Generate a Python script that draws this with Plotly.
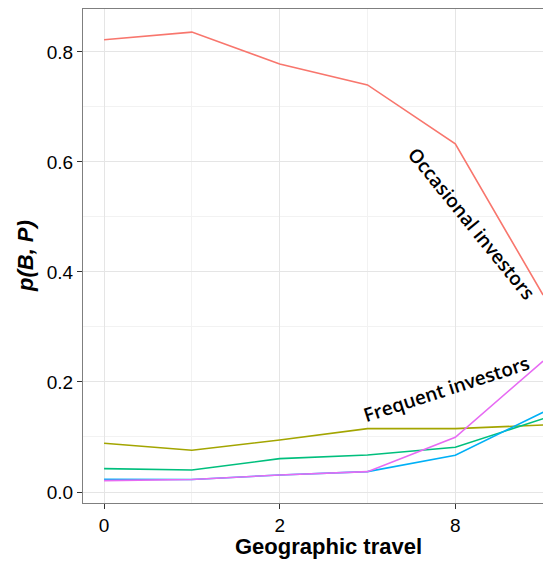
import plotly.graph_objects as go

x_pos = [0, 1, 2, 3, 4, 5]
tick_vals = [0, 2, 4]
tick_text = ["0", "2", "8"]

occasional = [0.822, 0.836, 0.778, 0.740, 0.633, 0.358]
series_olive = [0.0885, 0.0758, 0.0945, 0.1152, 0.1152, 0.1218]
series_green = [0.0424, 0.0400, 0.0606, 0.0673, 0.0812, 0.1333]
series_blue = [0.0230, 0.0226, 0.0310, 0.0370, 0.0667, 0.1450]
series_magenta = [0.0206, 0.0226, 0.0310, 0.0370, 0.0994, 0.2380]

series = [
    ("occasional", occasional, "#F8766D"),
    ("olive", series_olive, "#A3A500"),
    ("green", series_green, "#00BF7D"),
    ("blue", series_blue, "#00B0F6"),
    ("magenta", series_magenta, "#E76BF3"),
]

fig = go.Figure()
for name, vals, col in series:
    fig.add_trace(go.Scatter(x=x_pos, y=vals, mode="lines", name=name,
                             line=dict(color=col, width=1.6), showlegend=False))

ann_font = dict(family="Open Sans", size=19, color="black", weight=600)
fig.add_annotation(x=4.19, y=0.487, text="Occasional investors", showarrow=False,
                   textangle=51, font=ann_font, xanchor="center", yanchor="middle")
fig.add_annotation(x=3.895, y=0.187, text="Frequent investors", showarrow=False,
                   textangle=-18, font=ann_font, xanchor="center", yanchor="middle")

# axis titles
title_font = dict(family="Liberation Sans", size=22, color="black")
fig.add_annotation(xref="paper", yref="paper", x=0.5254, y=-0.089,
                   text="<b>Geographic travel</b>", showarrow=False,
                   font=title_font, xanchor="center", yanchor="middle")
fig.add_annotation(xref="paper", yref="paper", x=-0.1239, y=0.5,
                   text="<b><i>p(B, P)</i></b>", showarrow=False, textangle=-90,
                   font=title_font, xanchor="center", yanchor="middle")

fig.update_layout(
    width=543, height=554,
    margin=dict(l=75, r=0, t=1, b=59),
    paper_bgcolor="white", plot_bgcolor="white",
    font=dict(family="Liberation Sans", color="black"),
    xaxis=dict(range=[-0.24, 5.09], tickvals=tick_vals, ticktext=tick_text,
               ticks="outside", ticklen=5, tickcolor="#333333",
               tickfont=dict(size=19, color="black"),
               showgrid=True, gridcolor="#E5E5E5", gridwidth=1,
               minor=dict(tickvals=[1, 3, 5], showgrid=True, gridcolor="#F2F2F2", ticks=""),
               showline=True, linecolor="#7F7F7F", linewidth=1, mirror=True,
               zeroline=False, automargin=False),
    yaxis=dict(range=[-0.02, 0.878], tickvals=[0, 0.2, 0.4, 0.6, 0.8],
               ticktext=["0.0", "0.2", "0.4", "0.6", "0.8"],
               ticks="outside", ticklen=5, tickcolor="#333333",
               tickfont=dict(size=19, color="black"),
               showgrid=True, gridcolor="#E5E5E5", gridwidth=1,
               minor=dict(tickvals=[0.1, 0.3, 0.5, 0.7], showgrid=True, gridcolor="#F2F2F2", ticks=""),
               showline=True, linecolor="#7F7F7F", linewidth=1, mirror=True,
               zeroline=False, automargin=False),
)

fig.write_html("out.html")
